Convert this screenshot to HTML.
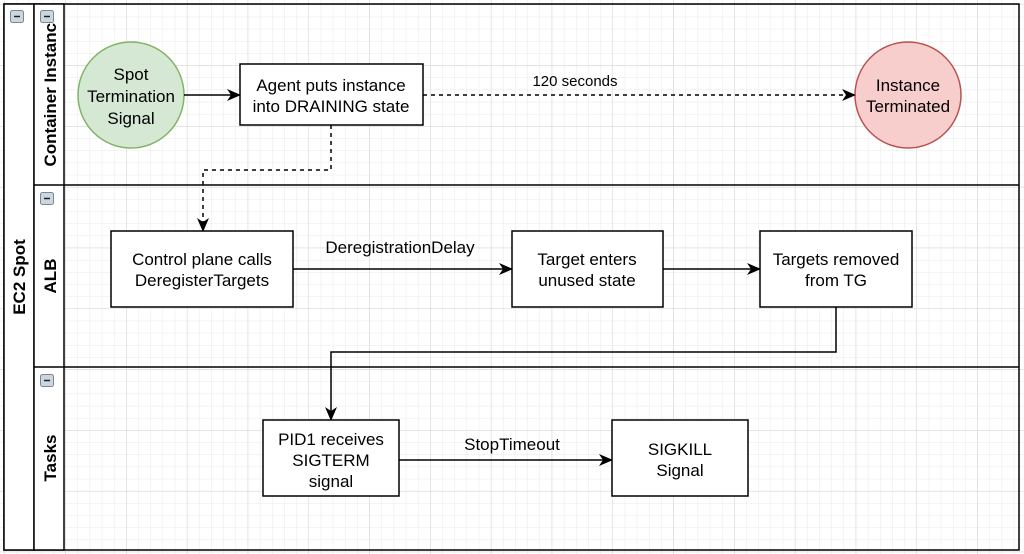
<!DOCTYPE html>
<html><head><style>
html,body{margin:0;padding:0;background:#fff;}
svg{display:block;}
text{font-family:"Liberation Sans",Arial,sans-serif;font-size:17px;fill:#000;}
</style></head><body>
<svg width="1024" height="554" viewBox="0 0 1024 554" xmlns="http://www.w3.org/2000/svg">
<defs>
<pattern id="minor" x="5" y="5" width="12.16" height="12.16" patternUnits="userSpaceOnUse">
<path d="M12.16 0V12.16H0" fill="none" stroke="#e8e8e8" stroke-width="1"/>
</pattern>
<pattern id="major" x="5" y="5" width="60.8" height="60.8" patternUnits="userSpaceOnUse">
<path d="M60.8 0V60.8H0" fill="none" stroke="#d2d2d2" stroke-width="1"/>
</pattern>
<marker id="ar" markerWidth="14" markerHeight="12" refX="13" refY="6" orient="auto" markerUnits="userSpaceOnUse">
<path d="M0,0 L14,6 L0,12 L4,6 Z" fill="#000"/>
</marker>
<clipPath id="c1"><rect x="34" y="22" width="30" height="163"/></clipPath>
</defs>
<rect width="1024" height="554" fill="url(#minor)"/>
<rect width="1024" height="554" fill="url(#major)"/>
<rect x="4" y="4" width="1015" height="546" fill="none" stroke="#000" stroke-width="1.5"/>
<rect x="4" y="4" width="30" height="546" fill="#fff" stroke="#000" stroke-width="1.5"/>
<rect x="34" y="4" width="30" height="546" fill="#fff" stroke="#000" stroke-width="1.5"/>
<line x1="34" y1="185" x2="1019" y2="185" stroke="#000" stroke-width="1.5"/>
<line x1="34" y1="367" x2="1019" y2="367" stroke="#000" stroke-width="1.5"/>
<g fill="#cdd5de" stroke="#7a8896" stroke-width="1">
<rect x="10.5" y="10.5" width="13" height="12" rx="2"/>
<rect x="40.5" y="10.5" width="13" height="12" rx="2"/>
<rect x="40.5" y="192.5" width="13" height="12" rx="2"/>
<rect x="40.5" y="374.5" width="13" height="12" rx="2"/>
</g>
<g stroke="#222" stroke-width="1.5">
<line x1="14" y1="16.5" x2="20" y2="16.5"/><line x1="44" y1="16.5" x2="50" y2="16.5"/>
<line x1="44" y1="198.5" x2="50" y2="198.5"/><line x1="44" y1="380.5" x2="50" y2="380.5"/>
</g>
<text transform="translate(25,277) rotate(-90)" text-anchor="middle" style="font-weight:bold">EC2 Spot</text>
<g clip-path="url(#c1)"><text transform="translate(56,90) rotate(-90)" text-anchor="middle" style="font-weight:bold">Container Instance</text></g>
<text transform="translate(56,276) rotate(-90)" text-anchor="middle" style="font-weight:bold">ALB</text>
<text transform="translate(56,458) rotate(-90)" text-anchor="middle" style="font-weight:bold">Tasks</text>
<circle cx="131" cy="95" r="53" fill="#d5e8d4" stroke="#82b366" stroke-width="1.5"/>
<text text-anchor="middle"><tspan x="131" y="80">Spot</tspan><tspan x="131" y="102">Termination</tspan><tspan x="131" y="124">Signal</tspan></text>
<rect x="240" y="64" width="183" height="61" fill="#fff" stroke="#000" stroke-width="1.5"/>
<text text-anchor="middle"><tspan x="331" y="91">Agent puts instance</tspan><tspan x="331" y="112">into DRAINING state</tspan></text>
<circle cx="908" cy="95" r="53" fill="#f8cecc" stroke="#b85450" stroke-width="1.5"/>
<text text-anchor="middle"><tspan x="908" y="91">Instance</tspan><tspan x="908" y="112">Terminated</tspan></text>
<line x1="184" y1="95" x2="240" y2="95" stroke="#000" stroke-width="1.5" marker-end="url(#ar)"/>
<line x1="423" y1="95" x2="855" y2="95" stroke="#000" stroke-width="1.5" stroke-dasharray="4,4" marker-end="url(#ar)"/>
<text x="575" y="86" text-anchor="middle" style="font-size:15px">120 seconds</text>
<path d="M331 125 V170 H203 V231" fill="none" stroke="#000" stroke-width="1.5" stroke-dasharray="4,4" marker-end="url(#ar)"/>
<rect x="111" y="231" width="182" height="76" fill="#fff" stroke="#000" stroke-width="1.5"/>
<text text-anchor="middle"><tspan x="202" y="265">Control plane calls</tspan><tspan x="202" y="286">DeregisterTargets</tspan></text>
<line x1="293" y1="269" x2="512" y2="269" stroke="#000" stroke-width="1.5" marker-end="url(#ar)"/>
<text x="400" y="253" text-anchor="middle">DeregistrationDelay</text>
<rect x="512" y="231" width="151" height="76" fill="#fff" stroke="#000" stroke-width="1.5"/>
<text text-anchor="middle"><tspan x="587" y="265">Target enters</tspan><tspan x="587" y="286">unused state</tspan></text>
<line x1="663" y1="269" x2="760" y2="269" stroke="#000" stroke-width="1.5" marker-end="url(#ar)"/>
<rect x="760" y="231" width="152" height="76" fill="#fff" stroke="#000" stroke-width="1.5"/>
<text text-anchor="middle"><tspan x="836" y="265">Targets removed</tspan><tspan x="836" y="286">from TG</tspan></text>
<path d="M836 307 V352 H331 V420" fill="none" stroke="#000" stroke-width="1.5" marker-end="url(#ar)"/>
<rect x="263" y="420" width="136" height="76" fill="#fff" stroke="#000" stroke-width="1.5"/>
<text text-anchor="middle"><tspan x="331" y="445">PID1 receives</tspan><tspan x="331" y="466">SIGTERM</tspan><tspan x="331" y="487">signal</tspan></text>
<line x1="399" y1="460" x2="612" y2="460" stroke="#000" stroke-width="1.5" marker-end="url(#ar)"/>
<text x="512" y="450" text-anchor="middle">StopTimeout</text>
<rect x="612" y="420" width="136" height="76" fill="#fff" stroke="#000" stroke-width="1.5"/>
<text text-anchor="middle"><tspan x="680" y="455">SIGKILL</tspan><tspan x="680" y="476">Signal</tspan></text>
</svg>
</body></html>
